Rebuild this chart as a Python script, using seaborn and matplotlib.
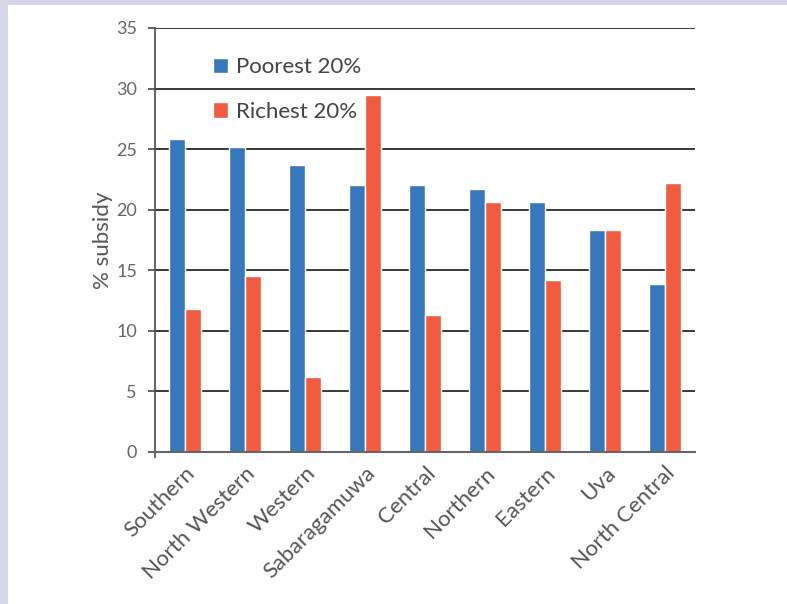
import pandas as pd
import numpy as np
import matplotlib.pyplot as plt
import seaborn as sns
from matplotlib.patches import Rectangle

# Data
regions = ["Southern", "North Western", "Western", "Sabaragamuwa", "Central",
           "Northern", "Eastern", "Uva", "North Central"]
poorest = [25.8, 25.2, 23.7, 22.0, 22.0, 21.7, 20.6, 18.3, 13.9]
richest = [11.8, 14.5, 6.2, 29.5, 11.3, 20.6, 14.2, 18.3, 22.2]
groups = ["Poorest 20%", "Richest 20%"]
y_ticks = [0, 5, 10, 15, 20, 25, 30, 35]

df = pd.DataFrame({
    "region": regions * 2,
    "group": [groups[0]] * len(regions) + [groups[1]] * len(regions),
    "subsidy": poorest + richest,
})

sns.set_style("white")
plt.rcParams['font.family'] = ['Lato', 'DejaVu Sans']

text_col = "#555555"

fig = plt.figure(figsize=(7.87, 6.04), dpi=100, facecolor="#D5D5EB")
# white panel inside the lavender frame
fig.patches.append(Rectangle((8 / 787, 0), 1, 1 - 5 / 604,
                             transform=fig.transFigure, facecolor="white",
                             edgecolor="none", zorder=-10))

ax = fig.add_axes([155 / 787, 1 - 452 / 604, 540 / 787, 424 / 604])
ax.set_facecolor("none")

sns.barplot(
    data=df,
    x="region",
    y="subsidy",
    hue="group",
    palette=["#3778BD", "#F15B40"],
    width=0.55,
    gap=0.06,
    saturation=1,
    ax=ax
)

ax.set_ylim(0, 35)
ax.set_xlim(-0.5, len(regions) - 0.5)
ax.set_yticks(y_ticks)
ax.set_yticklabels([str(t) for t in y_ticks], fontsize=13, color="#666666")
ax.set_axisbelow(True)
ax.yaxis.grid(True, color="#2a2a2a", linewidth=1.3)

ax.set_xticks(range(len(regions)))
ax.set_xticklabels(regions, rotation=45, ha="right", va="top",
                   rotation_mode="anchor", fontsize=16, color=text_col)
ax.tick_params(axis="x", length=0, pad=8)
ax.tick_params(axis="y", length=5, width=1.3, color="#555555", pad=8, left=True)

ax.set_xlabel("")
ax.set_ylabel("% subsidy", fontsize=16, color=text_col, labelpad=2)

for s in ["top", "right"]:
    ax.spines[s].set_visible(False)
ax.spines["left"].set_color("#555555")
ax.spines["left"].set_linewidth(1.3)
ax.spines["left"].set_bounds(-0.4, 35)
ax.spines["bottom"].set_color("#666666")
ax.spines["bottom"].set_linewidth(1.5)

sns.move_legend(
    ax, "upper left",
    bbox_to_anchor=(0.07, 0.978),
    frameon=False,
    title=None,
    fontsize=16,
    handlelength=0.7,
    handleheight=0.7,
    handletextpad=0.35,
    labelspacing=1.1,
)
for t in ax.get_legend().get_texts():
    t.set_color("#444444")

plt.savefig("out.png", dpi=100)
